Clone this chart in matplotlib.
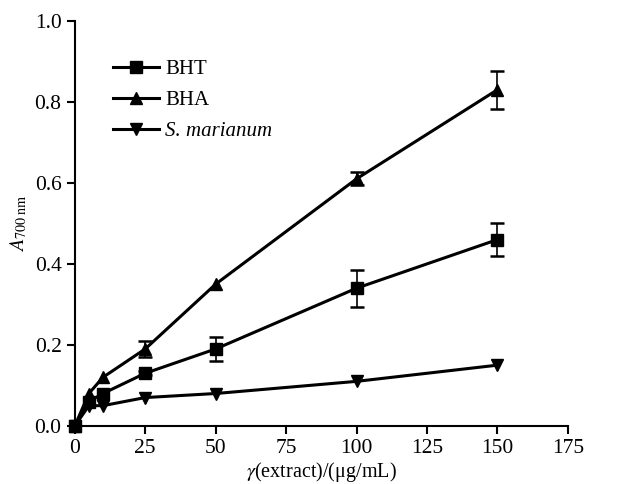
import numpy as np
import matplotlib
matplotlib.use("Agg")
import matplotlib.pyplot as plt
from matplotlib.lines import Line2D

plt.rcParams['font.family'] = ['Liberation Serif', 'DejaVu Serif']
plt.rcParams['mathtext.fontset'] = 'stix'

conc = [0, 5, 10, 25, 50, 100, 150]
bht = [0, 0.06, 0.08, 0.13, 0.19, 0.34, 0.46]
bht_err = [np.nan, np.nan, np.nan, 0.005, 0.03, 0.046, 0.04]
bha = [0, 0.08, 0.12, 0.19, 0.35, 0.61, 0.83]
bha_err = [np.nan, np.nan, np.nan, 0.02, np.nan, 0.016, 0.047]
sm = [0, 0.05, 0.05, 0.07, 0.08, 0.11, 0.15]
labels = ['BHT', 'BHA', 'S. marianum']
markers = ['s', '^', 'v']

fig = plt.figure(figsize=(6.18, 4.84), dpi=100)
ax = fig.add_axes([0.121, 0.12, 0.798, 0.837])

series = [(bht, bht_err), (bha, bha_err), (sm, None)]
for (vals, err), m in zip(series, markers):
    ax.plot(conc, vals, color='black', lw=2.2, marker=m, ms=8.5, clip_on=False, zorder=3)
    if err is not None:
        ax.errorbar(conc, vals, yerr=err, fmt='none', ecolor='black',
                    elinewidth=1.2, capsize=5, capthick=1.8, zorder=2)

ax.set_xlim(0, 175)
ax.set_ylim(0, 1.0)
ax.set_xticks(np.arange(0, 176, 25))
ax.set_yticks(np.arange(0, 1.01, 0.2))
ax.set_yticklabels([f'{v:.1f}' for v in np.arange(0, 1.01, 0.2)])
ax.spines['top'].set_visible(False)
ax.spines['right'].set_visible(False)
ax.spines['left'].set_linewidth(1.5)
ax.spines['bottom'].set_linewidth(1.5)
ax.tick_params(direction='out', length=6, width=1.5, labelsize=15.5)
ax.set_xlabel(r'$\gamma$(extract)/(μg/mL)', fontsize=14.5, labelpad=1)
ax.set_ylabel(r'$A_{\mathrm{700\ nm}}$', fontsize=14.5, labelpad=4)

handles = [Line2D([], [], color='black', lw=2.2, marker=m, ms=8.5) for m in markers]
leg = ax.legend(handles, labels, loc='upper left', bbox_to_anchor=(0.04, 0.95),
                frameon=False, fontsize=15, handlelength=2.2, handletextpad=0.3,
                labelspacing=0.55)
leg.get_texts()[2].set_style('italic')

fig.savefig('out.png', dpi=100)
